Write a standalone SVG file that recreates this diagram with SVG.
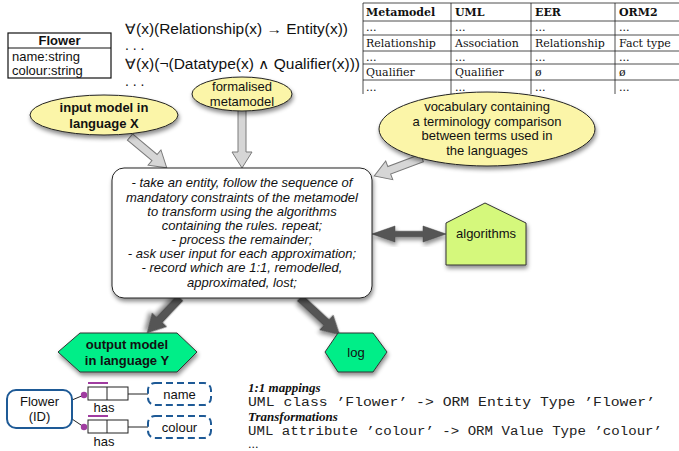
<svg xmlns="http://www.w3.org/2000/svg" width="679" height="451" viewBox="0 0 679 451">
<defs>
<filter id="sh" x="-20%" y="-20%" width="140%" height="150%"><feDropShadow dx="1" dy="3" stdDeviation="2" flood-color="#000" flood-opacity="0.45"/></filter>
<style>
.sans{font-family:"Liberation Sans",Arial,sans-serif;fill:#111}
.ser{font-family:"DejaVu Serif","Liberation Serif",serif;fill:#111;font-size:11px}
.hd{font-family:"Liberation Serif","Times New Roman",serif;fill:#111;font-size:13px;font-weight:bold;font-style:italic}
.mono{font-family:"Liberation Mono","Courier New",monospace;fill:#222;font-size:12.5px}
.ell{fill:#fbf5a8;stroke:#222;stroke-width:1}
.hol{fill:#d6d6d6;stroke:#7a7a7a;stroke-width:1}
.dark{fill:#555;stroke:#444;stroke-width:0.5}
.tl{stroke:#222;stroke-width:0.8}
.orm{fill:#fff;stroke:#1e5a96;stroke-width:2}
.dash{fill:#fff;stroke:#1e5a96;stroke-width:2;stroke-dasharray:7 4}
.box{fill:#fff;stroke:#222;stroke-width:1}
</style>
</defs>
<rect width="679" height="451" fill="#fff"/>

<g id="uml-flower">
<rect x="8" y="33" width="103" height="45" fill="#fff" stroke="#111" stroke-width="1.2"/>
<line x1="8" y1="48" x2="111" y2="48" stroke="#111" stroke-width="1"/>
<text class="sans" x="59.5" y="45" font-size="13" font-weight="bold" text-anchor="middle">Flower</text>
<text class="sans" x="12" y="61" font-size="13">name:string</text>
<text class="sans" x="12" y="75" font-size="13">colour:string</text>
</g>

<g id="formulas">
<text class="sans" x="125" y="34" font-size="14" textLength="223" lengthAdjust="spacingAndGlyphs">∀(x)(Relationship(x) → Entity(x))</text>
<text class="sans" x="125" y="50" font-size="14">. . .</text>
<text class="sans" x="125" y="69" font-size="14" textLength="235" lengthAdjust="spacingAndGlyphs">∀(x)(¬(Datatype(x) ∧ Qualifier(x)))</text>
<text class="sans" x="125" y="86" font-size="14">. . .</text>
</g>

<g id="table">
<line class="tl" x1="363" y1="3" x2="679" y2="3"/>
<line class="tl" x1="363" y1="21" x2="679" y2="21"/>
<line class="tl" x1="363" y1="35" x2="679" y2="35"/>
<line class="tl" x1="363" y1="51" x2="679" y2="51"/>
<line class="tl" x1="363" y1="64" x2="679" y2="64"/>
<line class="tl" x1="363" y1="80" x2="679" y2="80"/>
<line class="tl" x1="363" y1="3" x2="363" y2="94"/>
<line class="tl" x1="451" y1="3" x2="451" y2="94"/>
<line class="tl" x1="531" y1="3" x2="531" y2="94"/>
<line class="tl" x1="615" y1="3" x2="615" y2="94"/>
<text class="ser" x="366" y="16" font-weight="bold">Metamodel</text>
<text class="ser" x="455" y="16" font-weight="bold">UML</text>
<text class="ser" x="535" y="16" font-weight="bold">EER</text>
<text class="ser" x="619" y="16" font-weight="bold">ORM2</text>
<text class="ser" x="366" y="31">...</text><text class="ser" x="455" y="31">...</text><text class="ser" x="535" y="31">...</text><text class="ser" x="619" y="31">...</text>
<text class="ser" x="366" y="47">Relationship</text><text class="ser" x="455" y="47">Association</text><text class="ser" x="535" y="47">Relationship</text><text class="ser" x="619" y="47">Fact type</text>
<text class="ser" x="366" y="61">...</text><text class="ser" x="455" y="61">...</text><text class="ser" x="535" y="61">...</text><text class="ser" x="619" y="61">...</text>
<text class="ser" x="366" y="76">Qualifier</text><text class="ser" x="455" y="76">Qualifier</text><text class="ser" x="535" y="76">ø</text><text class="ser" x="619" y="76">ø</text>
<text class="ser" x="366" y="91">...</text><text class="ser" x="455" y="91">...</text><text class="ser" x="535" y="91">...</text><text class="ser" x="619" y="91">...</text>
</g>

<g id="connectors">
<polygon class="hol" transform="translate(130,137) rotate(40)" points="0,-4 32,-4 32,-10 48,0 32,10 32,4 0,4"/>
<polygon class="hol" transform="translate(242,110) rotate(90)" points="0,-4 42,-4 42,-10 58,0 42,10 42,4 0,4"/>
<polygon class="hol" transform="translate(422,158) rotate(159.4)" points="0,-4 35,-4 35,-10 51,0 35,10 35,4 0,4"/>
<polygon class="dark" transform="translate(372,234)" points="0,0 23,-8 23,-2.8 51,-2.8 51,-8 74,0 51,8 51,2.8 23,2.8 23,8" filter="url(#sh)"/>
<polygon class="dark" transform="translate(180,298) rotate(133.3)" points="0,-4 30,-4 30,-10 48,0 30,10 30,4 0,4" filter="url(#sh)"/>
<polygon class="dark" transform="translate(300,298) rotate(42.8)" points="0,-4 36,-4 36,-10 54,0 36,10 36,4 0,4" filter="url(#sh)"/>
</g>

<g id="input-model">
<ellipse class="ell" cx="104" cy="115" rx="74" ry="20" filter="url(#sh)"/>
<text class="sans" x="104" y="112" font-size="13" font-weight="bold" text-anchor="middle">input model in</text>
<text class="sans" x="104" y="128" font-size="13" font-weight="bold" text-anchor="middle">language X</text>
</g>

<g id="formalised-metamodel">
<ellipse class="ell" cx="242" cy="94" rx="50" ry="17" filter="url(#sh)"/>
<text class="sans" x="242" y="91" font-size="13" text-anchor="middle">formalised</text>
<text class="sans" x="242" y="106" font-size="13" text-anchor="middle">metamodel</text>
</g>

<g id="vocabulary">
<ellipse class="ell" cx="487" cy="129" rx="108" ry="37" filter="url(#sh)"/>
<text class="sans" x="487" y="111" font-size="13" text-anchor="middle">vocabulary containing</text>
<text class="sans" x="487" y="126" font-size="13" text-anchor="middle">a terminology comparison</text>
<text class="sans" x="487" y="140" font-size="13" text-anchor="middle">between terms used in</text>
<text class="sans" x="487" y="155" font-size="13" text-anchor="middle">the languages</text>
</g>

<g id="process">
<rect x="112" y="168" width="260" height="130" rx="12" fill="#fff" stroke="#222" stroke-width="1" filter="url(#sh)"/>
<g class="sans" font-size="13" font-style="italic" text-anchor="middle">
<text x="242" y="187">- take an entity, follow the sequence of</text>
<text x="242" y="202">mandatory constraints of the metamodel</text>
<text x="242" y="216">to transform using the algorithms</text>
<text x="242" y="230">containing the rules. repeat;</text>
<text x="242" y="244">- process the remainder;</text>
<text x="242" y="258">- ask user input for each approximation;</text>
<text x="242" y="272">- record which are 1:1, remodelled,</text>
<text x="242" y="287">approximated, lost;</text>
</g>
</g>

<g id="algorithms">
<polygon points="485,203 526,223 526,265 446,265 446,223" fill="#d5f87c" stroke="#333" stroke-width="1" filter="url(#sh)"/>
<text class="sans" x="486" y="238" font-size="13" text-anchor="middle">algorithms</text>
</g>

<g id="output-model">
<polygon points="58,352 80,333 177,333 197,352 177,372 80,372" fill="#00ee88" stroke="#333" stroke-width="1" filter="url(#sh)"/>
<text class="sans" x="127" y="349" font-size="13" font-weight="bold" text-anchor="middle">output model</text>
<text class="sans" x="127" y="365" font-size="13" font-weight="bold" text-anchor="middle">in language Y</text>
</g>

<g id="log">
<polygon points="325,352 338,333 373,333 387,352 373,372 338,372" fill="#00ee88" stroke="#333" stroke-width="1" filter="url(#sh)"/>
<text class="sans" x="356" y="357" font-size="13" text-anchor="middle">log</text>
</g>

<g id="orm-model">
<line x1="72" y1="400" x2="84" y2="395" stroke="#222" stroke-width="1"/>
<line x1="72" y1="419" x2="84" y2="427" stroke="#222" stroke-width="1"/>
<line x1="128" y1="394" x2="148" y2="394" stroke="#222" stroke-width="1"/>
<line x1="128" y1="427" x2="148" y2="427" stroke="#222" stroke-width="1"/>
<rect class="orm" x="7" y="390" width="65" height="38" rx="9"/>
<text class="sans" x="39.5" y="406" font-size="13" text-anchor="middle">Flower</text>
<text class="sans" x="39.5" y="421" font-size="13" text-anchor="middle">(ID)</text>
<rect class="box" x="88" y="387" width="40" height="13"/>
<line x1="107" y1="387" x2="107" y2="400" stroke="#222" stroke-width="1"/>
<line x1="88" y1="383" x2="108" y2="383" stroke="#a03ca0" stroke-width="2"/>
<circle cx="84" cy="395" r="3.2" fill="#a03ca0"/>
<text class="sans" x="104" y="412" font-size="13" text-anchor="middle">has</text>
<rect class="dash" x="148" y="383" width="63" height="22" rx="7"/>
<text class="sans" x="179.5" y="399" font-size="13" text-anchor="middle">name</text>
<rect class="box" x="88" y="420" width="40" height="13"/>
<line x1="107" y1="420" x2="107" y2="433" stroke="#222" stroke-width="1"/>
<line x1="88" y1="416" x2="108" y2="416" stroke="#a03ca0" stroke-width="2"/>
<circle cx="84" cy="427" r="3.2" fill="#a03ca0"/>
<text class="sans" x="104" y="446" font-size="13" text-anchor="middle">has</text>
<rect class="dash" x="148" y="416" width="63" height="22" rx="7"/>
<text class="sans" x="179.5" y="432" font-size="13" text-anchor="middle">colour</text>
</g>

<g id="mapping-log">
<text class="hd" x="248" y="392">1:1 mappings</text>
<text class="mono" x="248" y="406" textLength="407" lengthAdjust="spacingAndGlyphs">UML class ’Flower’ -&gt; ORM Entity Type ’Flower’</text>
<text class="hd" x="248" y="421">Transformations</text>
<text class="mono" x="248" y="435" textLength="414" lengthAdjust="spacingAndGlyphs">UML attribute ’colour’ -&gt; ORM Value Type ’colour’</text>
<text class="ser" x="248" y="448">...</text>
</g>
</svg>
